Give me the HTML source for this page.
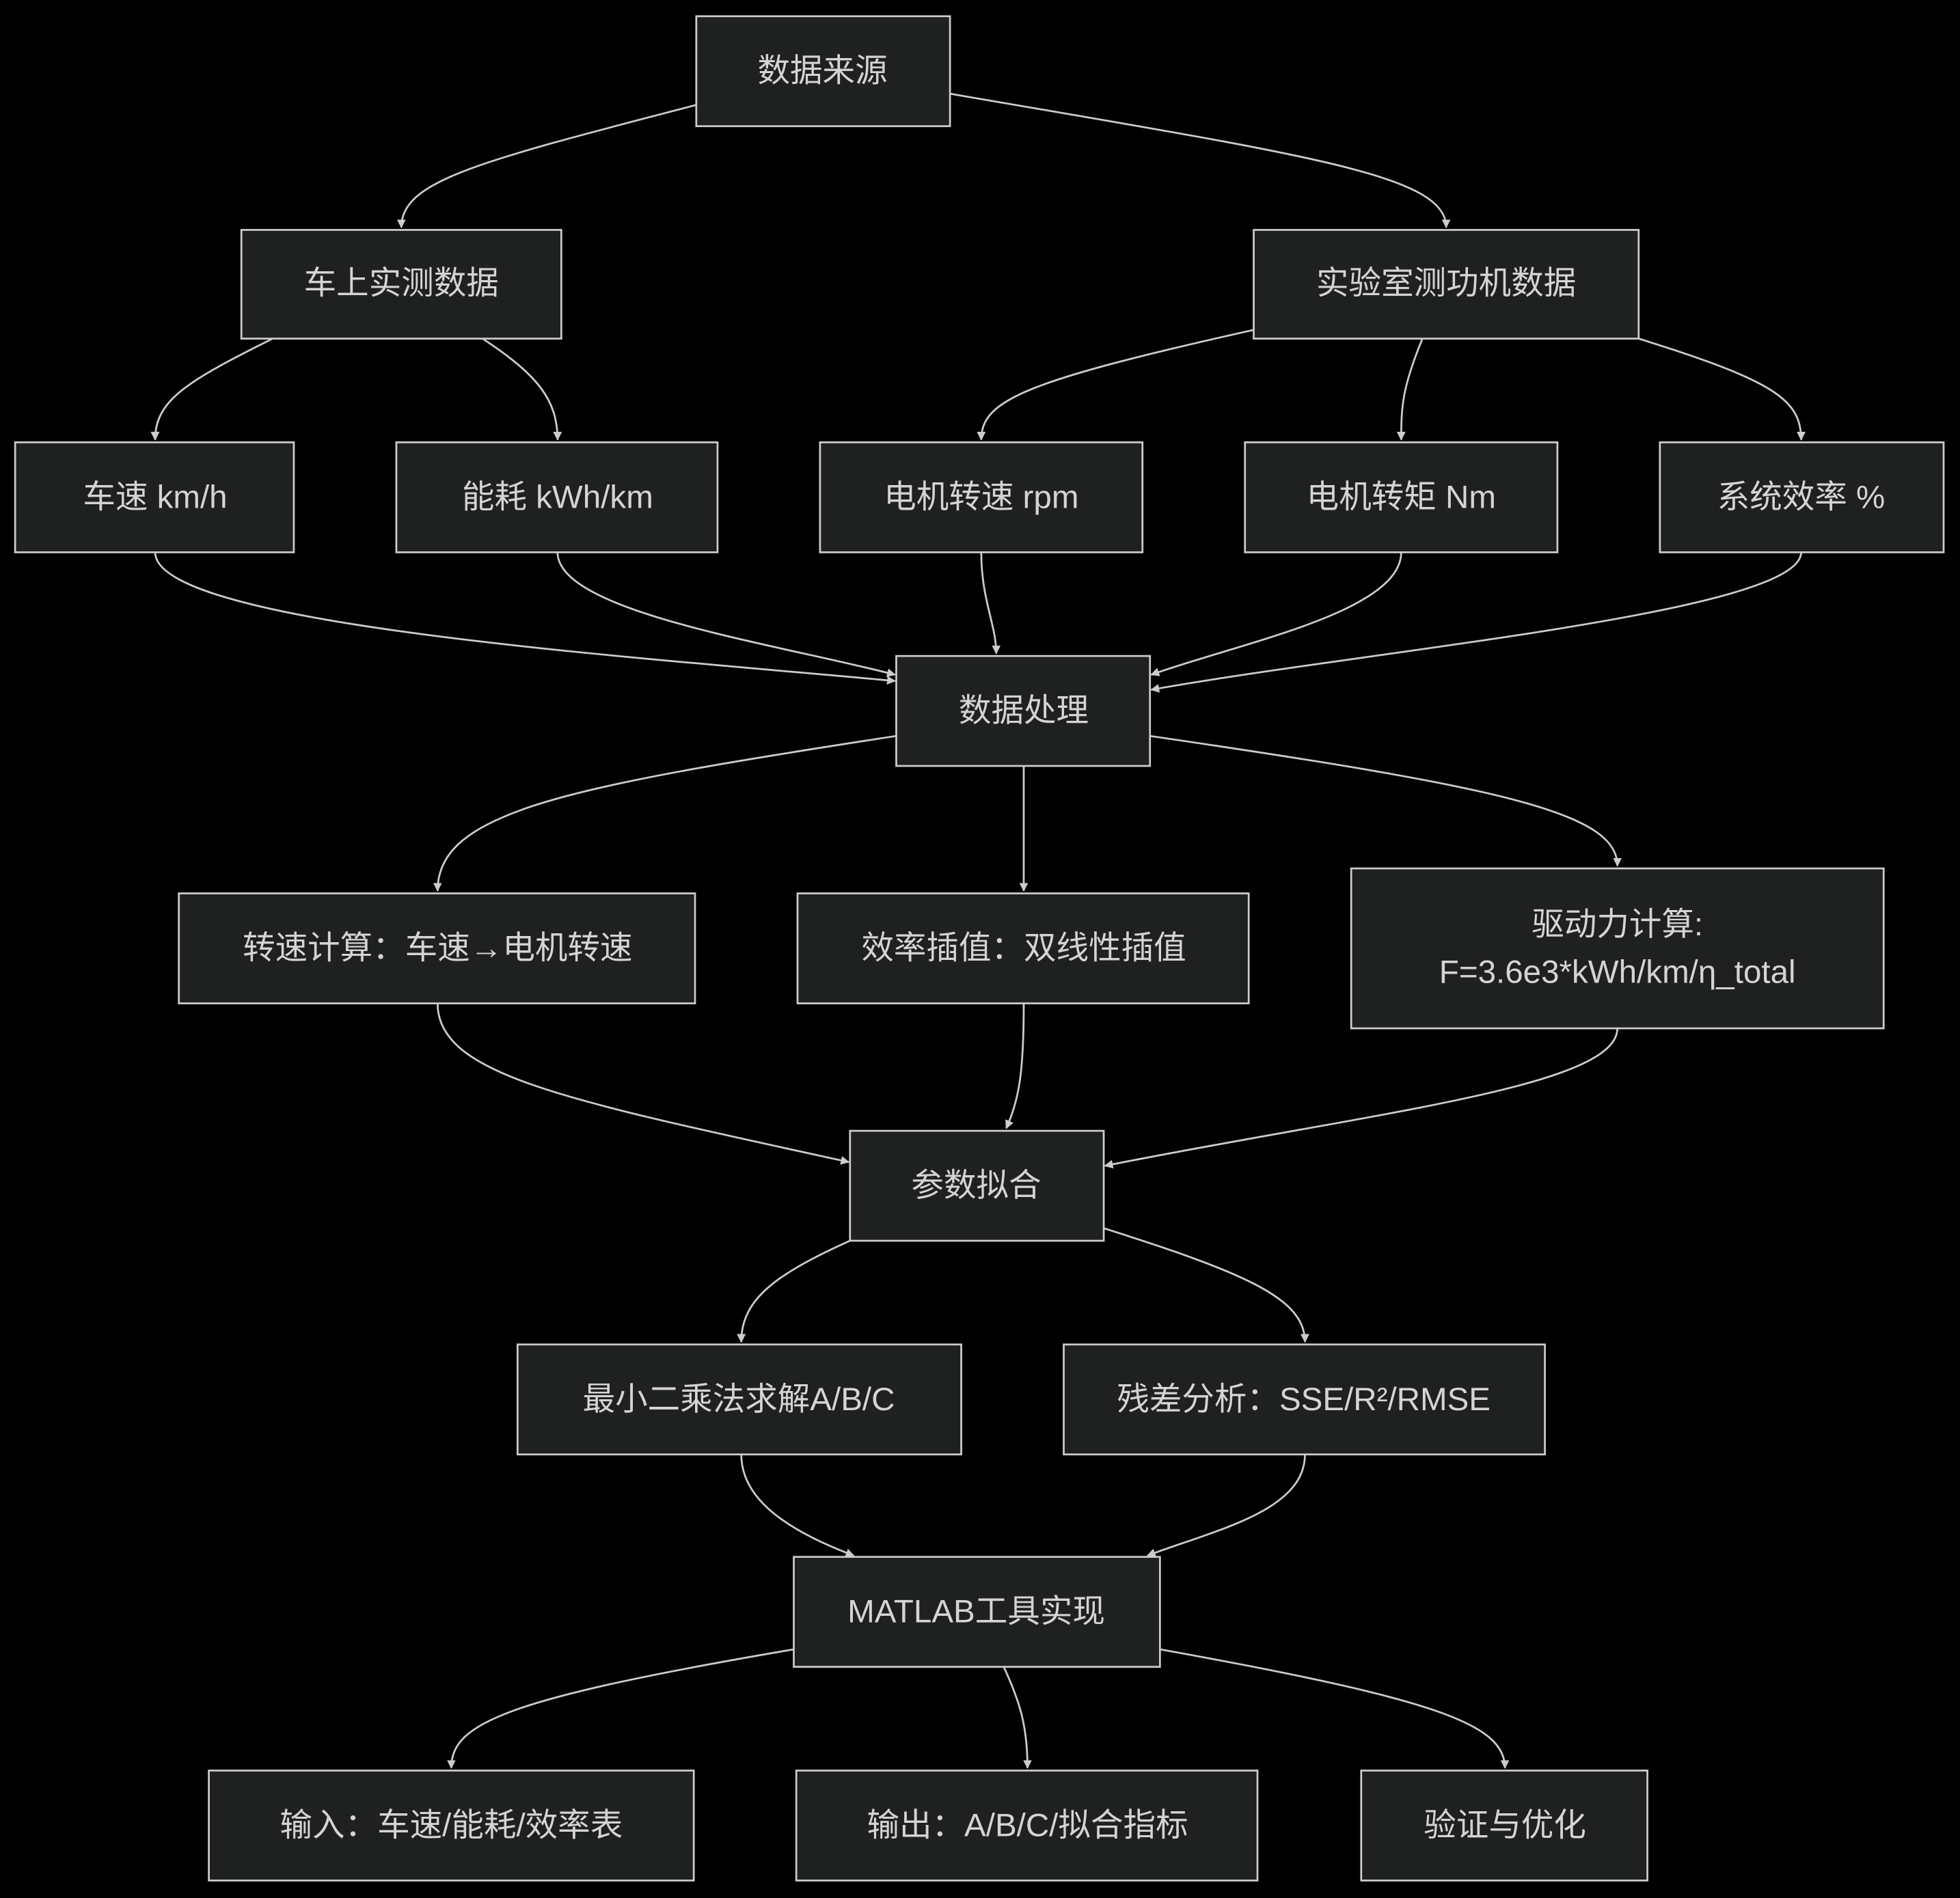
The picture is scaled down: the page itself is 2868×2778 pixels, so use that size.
<!DOCTYPE html>
<html><head><meta charset="utf-8"><style>
html,body{margin:0;padding:0;background:#000;}
svg{display:block;}
text{font-family:"Liberation Sans","Noto Sans CJK SC",sans-serif;font-size:26px;fill:#d4d4d4;text-anchor:middle;dominant-baseline:central;}
.n{fill:#1f2020;stroke:#cccccc;stroke-width:1.5;}
.e{fill:none;stroke:#cccccc;stroke-width:1.5;marker-end:url(#a);}
</style></head><body>
<svg width="2868" height="2778" viewBox="0 0 1568 1519" xmlns="http://www.w3.org/2000/svg">
<defs><marker id="a" viewBox="0 0 10 10" refX="9" refY="5" markerWidth="7" markerHeight="7" orient="auto" markerUnits="userSpaceOnUse"><path d="M0,0L10,5L0,10z" fill="#cccccc" transform="scale(1.4)" transform-origin="10 5"/></marker></defs>
<rect width="1568" height="1519" fill="#000"/>
<path class="e" d="M557,84 C380,130 321,145 321,182"/>
<path class="e" d="M760,75 C1050,125 1157,140 1157,182"/>
<path class="e" d="M218,271 C150,305 124,320 124,352"/>
<path class="e" d="M386,271 C430,300 446,320 446,352"/>
<path class="e" d="M1003,264 C820,305 785,320 785,352"/>
<path class="e" d="M1138,271 C1122,310 1121,325 1121,352"/>
<path class="e" d="M1311,271 C1420,305 1441,320 1441,352"/>
<path class="e" d="M124,442 C124,500 500,525 716,545"/>
<path class="e" d="M446,442 C446,490 620,515 716,540"/>
<path class="e" d="M785,442 C785,480 797,500 797,523"/>
<path class="e" d="M1121,442 C1121,490 990,515 921,540"/>
<path class="e" d="M1441,442 C1441,490 1100,520 921,552"/>
<path class="e" d="M717,589 C450,630 350,650 350,713"/>
<path class="e" d="M819,613 L819,713"/>
<path class="e" d="M920,589 C1200,630 1294,650 1294,693"/>
<path class="e" d="M350,803 C350,860 450,880 679,930"/>
<path class="e" d="M819,803 C819,860 815,880 805,903"/>
<path class="e" d="M1294,823 C1294,870 1100,890 884,933"/>
<path class="e" d="M680,993 C620,1020 593,1040 593,1074"/>
<path class="e" d="M883,983 C1000,1020 1044,1040 1044,1074"/>
<path class="e" d="M593,1164 C593,1200 630,1225 683,1245"/>
<path class="e" d="M1044,1164 C1044,1210 970,1225 918,1245"/>
<path class="e" d="M635,1320 C400,1360 361,1380 361,1415"/>
<path class="e" d="M803,1334 C815,1360 822,1380 822,1415"/>
<path class="e" d="M928,1320 C1150,1360 1204,1380 1204,1415"/>

<rect class="n" x="557" y="13" width="203" height="88"/><text x="658" y="57">数据来源</text>
<rect class="n" x="193" y="184" width="256" height="87"/><text x="321" y="227">车上实测数据</text>
<rect class="n" x="1003" y="184" width="308" height="87"/><text x="1157" y="227">实验室测功机数据</text>
<rect class="n" x="12" y="354" width="223" height="88"/><text x="124" y="398">车速 km/h</text>
<rect class="n" x="317" y="354" width="257" height="88"/><text x="446" y="398">能耗 kWh/km</text>
<rect class="n" x="656" y="354" width="258" height="88"/><text x="785" y="398">电机转速 rpm</text>
<rect class="n" x="996" y="354" width="250" height="88"/><text x="1121" y="398">电机转矩 Nm</text>
<rect class="n" x="1328" y="354" width="227" height="88"/><text x="1441" y="398">系统效率 %</text>
<rect class="n" x="717" y="525" width="203" height="88"/><text x="819" y="569">数据处理</text>
<rect class="n" x="143" y="715" width="413" height="88"/><text x="350" y="759">转速计算：车速→电机转速</text>
<rect class="n" x="638" y="715" width="361" height="88"/><text x="819" y="759">效率插值：双线性插值</text>
<rect class="n" x="1081" y="695" width="426" height="128"/><text x="1294" y="740">驱动力计算:</text><text x="1294" y="778">F=3.6e3*kWh/km/η_total</text>
<rect class="n" x="680" y="905" width="203" height="88"/><text x="781" y="949">参数拟合</text>
<rect class="n" x="414" y="1076" width="355" height="88"/><text x="591" y="1120">最小二乘法求解A/B/C</text>
<rect class="n" x="851" y="1076" width="385" height="88"/><text x="1043" y="1120">残差分析：SSE/R²/RMSE</text>
<rect class="n" x="635" y="1246" width="293" height="88"/><text x="781" y="1290">MATLAB工具实现</text>
<rect class="n" x="167" y="1417" width="388" height="88"/><text x="361" y="1461">输入：车速/能耗/效率表</text>
<rect class="n" x="637" y="1417" width="369" height="88"/><text x="822" y="1461">输出：A/B/C/拟合指标</text>
<rect class="n" x="1089" y="1417" width="229" height="88"/><text x="1204" y="1461">验证与优化</text>
</svg>
</body></html>
